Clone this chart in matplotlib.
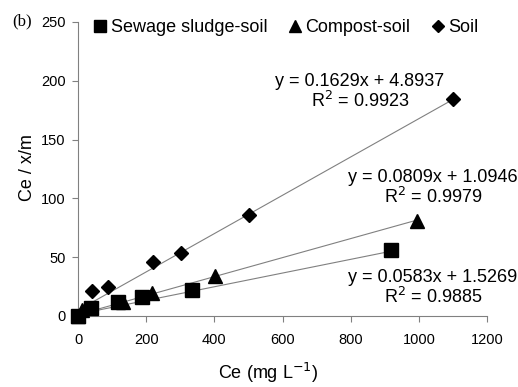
import numpy as np
import matplotlib.pyplot as plt

plt.rcParams['font.family'] = ['Liberation Sans', 'DejaVu Sans']

# data
x_sludge = np.array([0, 37, 118, 187, 333, 917])
y_sludge = np.array([0, 6.8, 12.2, 16.4, 22.1, 55.7])
x_compost = np.array([0, 11, 133, 216, 402, 994])
y_compost = np.array([0, 5, 12.2, 19.3, 34.1, 81])
x_soil = np.array([0, 40, 87, 221, 303, 503, 1100])
y_soil = np.array([0, 21.3, 24.9, 46.2, 53.3, 85.6, 184.5])

# trendline coefficients (slope, intercept, R2) as printed
fit_sludge = (0.0583, 1.5269, 0.9885)
fit_compost = (0.0809, 1.0946, 0.9979)
fit_soil = (0.1629, 4.8937, 0.9923)

xticks = [0, 200, 400, 600, 800, 1000, 1200]
yticks = [0, 50, 100, 150, 200, 250]

fig = plt.figure(figsize=(5.18, 3.87), dpi=100)
ax = fig.add_axes([0.1506, 0.1835, 0.7896, 0.7597])

gray = '#808080'
for xs, fit in [(x_sludge, fit_sludge), (x_compost, fit_compost), (x_soil, fit_soil)]:
    xx = np.array([xs.min(), xs.max()])
    ax.plot(xx, fit[0] * xx + fit[1], color=gray, lw=0.8, zorder=2)

ax.plot(x_sludge, y_sludge, 's', color='black', ms=9.5, ls='none', zorder=3,
        clip_on=False, label='Sewage sludge-soil')
ax.plot(x_compost, y_compost, '^', color='black', ms=10.5, ls='none', zorder=3,
        clip_on=False, label='Compost-soil')
ax.plot(x_soil, y_soil, 'D', color='black', ms=7.5, ls='none', zorder=3,
        clip_on=False, label='Soil')

ax.set_xlim(0, 1200)
ax.set_ylim(0, 250)
ax.set_xticks(xticks)
ax.set_yticks(yticks)
for s in ['top', 'right']:
    ax.spines[s].set_visible(False)
for s in ['left', 'bottom']:
    ax.spines[s].set_color(gray)
    ax.spines[s].set_linewidth(0.8)
ax.tick_params(axis='both', colors=gray, labelcolor='black', labelsize=10.5,
               length=4, width=0.8, direction='out')
ax.tick_params(axis='x', pad=8)
ax.tick_params(axis='y', pad=5)

def eq_text(fit):
    return 'y = %.4fx + %.4f\nR$^2$ = %.4f' % fit

def fig_pt(px, py):
    return (px / 518, 1 - py / 387)

for fit, (px, py) in [(fit_soil, (360, 92)), (fit_compost, (433, 188)),
                      (fit_sludge, (433, 288))]:
    fx, fy = fig_pt(px, py)
    fig.text(fx, fy, eq_text(fit), ha='center', va='center', fontsize=13,
             linespacing=1.1)

fig.legend(loc='center', bbox_to_anchor=fig_pt(285, 28), ncol=3, frameon=False,
           fontsize=13, handletextpad=0.1, columnspacing=1.0, markerscale=0.85,
           handlelength=1.0)

fx, fy = fig_pt(268, 373)
fig.text(fx, fy, 'Ce (mg L$^{-1}$)', ha='center', va='center', fontsize=13)
fx, fy = fig_pt(28, 168)
fig.text(fx, fy, 'Ce / x/m', ha='center', va='center', fontsize=13, rotation=90)
fx, fy = fig_pt(22, 21)
fig.text(fx, fy, '(b)', ha='center', va='center', fontsize=12,
         family='Liberation Serif')

fig.savefig('out.png', dpi=100)
